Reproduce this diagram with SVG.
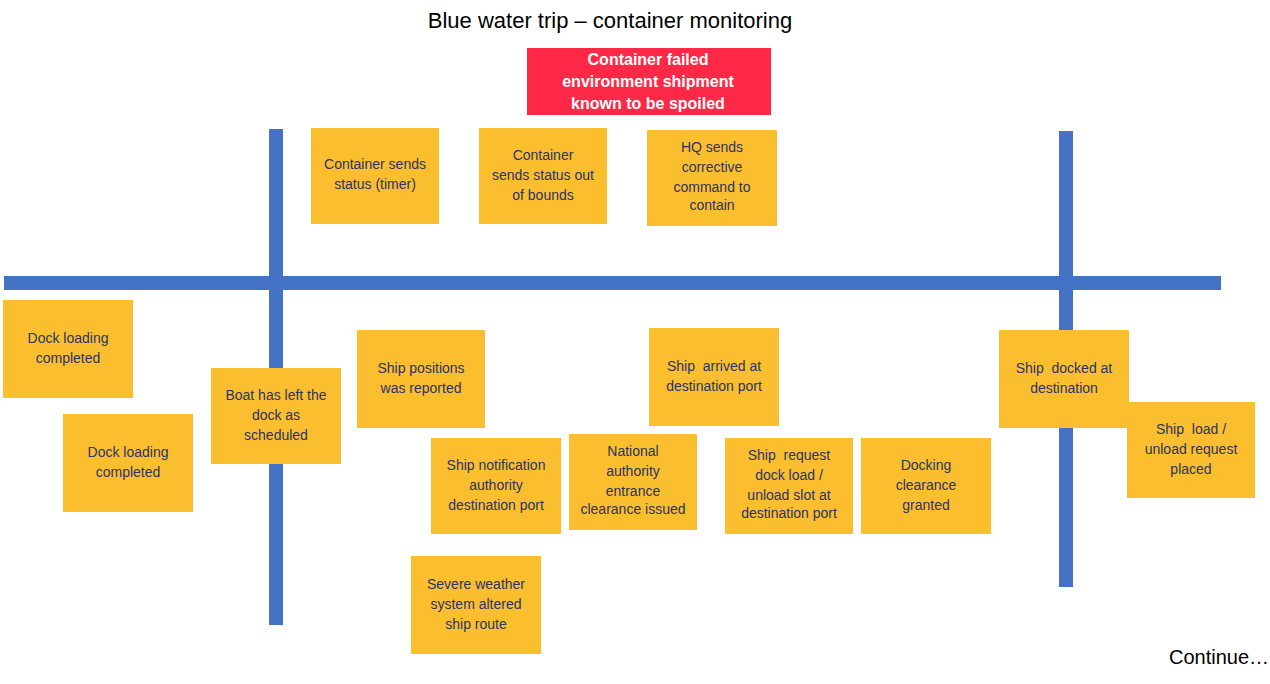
<svg xmlns="http://www.w3.org/2000/svg" width="1270" height="684" viewBox="0 0 1270 684">
<style>
.bar{fill:#4472C4}
.note{fill:#FBBE2E}
.alert{fill:#FF2846}
.t{font-family:"Liberation Sans",Arial,sans-serif;font-size:14px;fill:#2B3466;text-anchor:middle}
.ta{font-family:"Liberation Sans",Arial,sans-serif;font-size:16px;font-weight:bold;fill:#FFFFFF;text-anchor:middle}
.title{font-family:"Liberation Sans",Arial,sans-serif;font-size:22px;fill:#000000;text-anchor:middle}
.cont{font-family:"Liberation Sans",Arial,sans-serif;font-size:20px;fill:#000000;text-anchor:middle}
</style>
<rect width="1270" height="684" fill="#FFFFFF"/>
<text class="title" x="610" y="28">Blue water trip – container monitoring</text>
<g id="connectors">
<rect class="bar" x="4" y="276" width="1217" height="14"/>
<rect class="bar" x="269" y="129" width="14" height="496"/>
<rect class="bar" x="1059" y="131" width="14" height="456"/>
</g>
<g id="alert">
<rect class="alert" x="527" y="48" width="244" height="67"/>
<text class="ta" x="648" y="65">Container failed</text>
<text class="ta" x="648" y="87">environment shipment</text>
<text class="ta" x="648" y="109">known to be spoiled</text>
</g>
<g id="n1">
<rect class="note" x="311" y="128" width="128" height="96"/>
<text class="t" x="375" y="169">Container sends</text>
<text class="t" x="375" y="189">status (timer)</text>
</g>
<g id="n2">
<rect class="note" x="479" y="128" width="128" height="96"/>
<text class="t" x="543" y="160">Container</text>
<text class="t" x="543" y="180">sends status out</text>
<text class="t" x="543" y="200">of bounds</text>
</g>
<g id="n3">
<rect class="note" x="647" y="130" width="130" height="96"/>
<text class="t" x="712" y="152">HQ sends</text>
<text class="t" x="712" y="172">corrective</text>
<text class="t" x="712" y="192">command to</text>
<text class="t" x="712" y="210">contain</text>
</g>
<g id="n4">
<rect class="note" x="3" y="300" width="130" height="98"/>
<text class="t" x="68" y="343">Dock loading</text>
<text class="t" x="68" y="363">completed</text>
</g>
<g id="n5">
<rect class="note" x="63" y="414" width="130" height="98"/>
<text class="t" x="128" y="457">Dock loading</text>
<text class="t" x="128" y="477">completed</text>
</g>
<g id="n6">
<rect class="note" x="211" y="368" width="130" height="96"/>
<text class="t" x="276" y="400">Boat has left the</text>
<text class="t" x="276" y="420">dock as</text>
<text class="t" x="276" y="440">scheduled</text>
</g>
<g id="n7">
<rect class="note" x="357" y="330" width="128" height="98"/>
<text class="t" x="421" y="373">Ship positions</text>
<text class="t" x="421" y="393">was reported</text>
</g>
<g id="n8">
<rect class="note" x="649" y="328" width="130" height="98"/>
<text class="t" x="714" y="371" xml:space="preserve">Ship  arrived at</text>
<text class="t" x="714" y="391">destination port</text>
</g>
<g id="n9">
<rect class="note" x="431" y="438" width="130" height="96"/>
<text class="t" x="496" y="470">Ship notification</text>
<text class="t" x="496" y="490">authority</text>
<text class="t" x="496" y="510">destination port</text>
</g>
<g id="n10">
<rect class="note" x="569" y="434" width="128" height="96"/>
<text class="t" x="633" y="456">National</text>
<text class="t" x="633" y="476">authority</text>
<text class="t" x="633" y="496">entrance</text>
<text class="t" x="633" y="514">clearance issued</text>
</g>
<g id="n11">
<rect class="note" x="725" y="438" width="128" height="96"/>
<text class="t" x="789" y="460" xml:space="preserve">Ship  request</text>
<text class="t" x="789" y="480">dock load /</text>
<text class="t" x="789" y="500">unload slot at</text>
<text class="t" x="789" y="518">destination port</text>
</g>
<g id="n12">
<rect class="note" x="861" y="438" width="130" height="96"/>
<text class="t" x="926" y="470">Docking</text>
<text class="t" x="926" y="490">clearance</text>
<text class="t" x="926" y="510">granted</text>
</g>
<g id="n13">
<rect class="note" x="411" y="556" width="130" height="98"/>
<text class="t" x="476" y="589">Severe weather</text>
<text class="t" x="476" y="609">system altered</text>
<text class="t" x="476" y="629">ship route</text>
</g>
<g id="n14">
<rect class="note" x="999" y="330" width="130" height="98"/>
<text class="t" x="1064" y="373" xml:space="preserve">Ship  docked at</text>
<text class="t" x="1064" y="393">destination</text>
</g>
<g id="n15">
<rect class="note" x="1127" y="402" width="128" height="96"/>
<text class="t" x="1191" y="434" xml:space="preserve">Ship  load /</text>
<text class="t" x="1191" y="454">unload request</text>
<text class="t" x="1191" y="474">placed</text>
</g>
<text class="cont" x="1219" y="664">Continue…</text>
</svg>
